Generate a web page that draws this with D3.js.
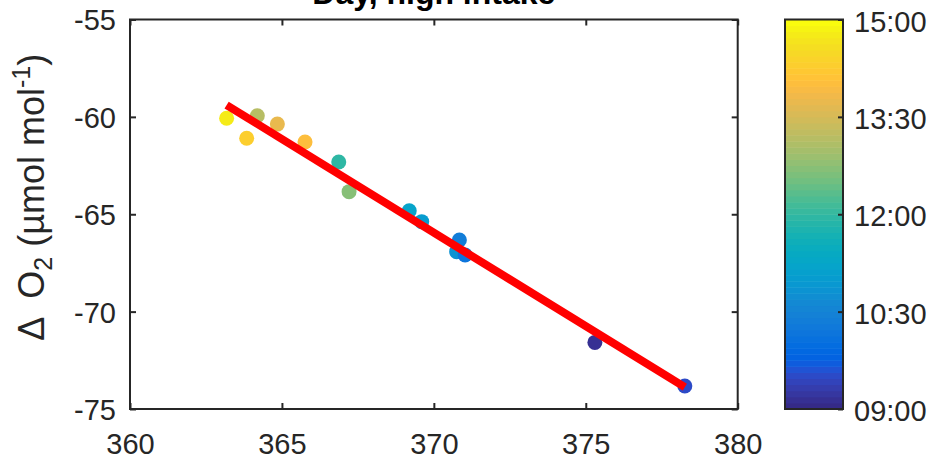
<!DOCTYPE html>
<html>
<head>
<meta charset="utf-8">
<script src="https://cdn.jsdelivr.net/npm/d3@7"></script>
<style>
  html, body { margin: 0; padding: 0; background: #fff; }
  svg { display: block; font-family: "Liberation Sans", Arial, Helvetica, sans-serif; }
</style>
</head>
<body>
<svg id="chart" width="940" height="459"></svg>
<script>
// ---- data ----
const co2 = [363.18, 363.84, 364.19, 364.85, 365.76, 366.87, 367.21, 369.19, 369.60, 370.84, 370.75, 371.03, 375.30, 378.26];
const dO2 = [-60.07, -61.10, -59.94, -60.37, -61.29, -62.32, -63.84, -64.82, -65.38, -66.32, -66.92, -67.09, -71.58, -73.82];
const times = ["14:48", "14:18", "13:12", "13:42", "14:00", "11:57", "12:42", "11:12", "11:00", "10:24", "10:48", "10:12", "09:06", "09:30"];
const xTicks = [360, 365, 370, 375, 380];
const yTicks = [-75, -70, -65, -60, -55];
const cbTicks = ["09:00", "10:30", "12:00", "13:30", "15:00"];
const title = "Day, high intake";

// parula colormap (64 entries)
const parula = [
[0.2081,0.1663,0.5292],[0.2116,0.1898,0.5777],[0.2123,0.2138,0.6270],[0.2081,0.2386,0.6771],
[0.1959,0.2645,0.7279],[0.1707,0.2919,0.7792],[0.1253,0.3242,0.8303],[0.0591,0.3598,0.8683],
[0.0117,0.3875,0.8820],[0.0060,0.4086,0.8828],[0.0165,0.4266,0.8786],[0.0329,0.4430,0.8720],
[0.0498,0.4586,0.8641],[0.0629,0.4737,0.8554],[0.0723,0.4887,0.8467],[0.0779,0.5040,0.8384],
[0.0793,0.5200,0.8312],[0.0749,0.5375,0.8263],[0.0641,0.5570,0.8240],[0.0488,0.5772,0.8228],
[0.0343,0.5966,0.8199],[0.0265,0.6137,0.8135],[0.0239,0.6287,0.8038],[0.0231,0.6418,0.7913],
[0.0228,0.6535,0.7768],[0.0267,0.6642,0.7607],[0.0384,0.6743,0.7436],[0.0590,0.6838,0.7254],
[0.0843,0.6928,0.7062],[0.1133,0.7015,0.6859],[0.1453,0.7098,0.6646],[0.1801,0.7177,0.6424],
[0.2178,0.7250,0.6193],[0.2586,0.7317,0.5954],[0.3022,0.7376,0.5712],[0.3482,0.7424,0.5473],
[0.3953,0.7459,0.5244],[0.4420,0.7481,0.5033],[0.4871,0.7491,0.4840],[0.5300,0.7491,0.4661],
[0.5709,0.7485,0.4494],[0.6099,0.7473,0.4337],[0.6473,0.7456,0.4188],[0.6834,0.7435,0.4044],
[0.7184,0.7411,0.3905],[0.7525,0.7384,0.3768],[0.7858,0.7356,0.3633],[0.8185,0.7327,0.3498],
[0.8507,0.7299,0.3360],[0.8824,0.7274,0.3217],[0.9139,0.7258,0.3063],[0.9450,0.7261,0.2886],
[0.9739,0.7314,0.2666],[0.9938,0.7455,0.2403],[0.9990,0.7653,0.2164],[0.9955,0.7861,0.1967],
[0.9880,0.8066,0.1794],[0.9789,0.8271,0.1633],[0.9697,0.8481,0.1475],[0.9626,0.8705,0.1309],
[0.9589,0.8949,0.1132],[0.9598,0.9218,0.0948],[0.9661,0.9514,0.0755],[0.9763,0.9831,0.0538]
];

// ---- helpers ----
const toHours = s => { const [h, m] = s.split(":").map(Number); return h + m / 60; };
const parulaColors = parula.map(c => d3.rgb(c[0] * 255, c[1] * 255, c[2] * 255).formatHex());
const tMin = toHours(cbTicks[0]), tMax = toHours(cbTicks[cbTicks.length - 1]);
const colorScale = d3.scaleQuantize().domain([tMin, tMax]).range(parulaColors);

const ink = "#262626";
const FS = 29;

const svg = d3.select("#chart");

// layout
const plot = { left: 130, right: 737.7, top: 19.5, bottom: 409 };
const cb = { left: 785, right: 843, top: 19.5, bottom: 409 };

const x = d3.scaleLinear().domain([xTicks[0], xTicks[xTicks.length - 1]]).range([plot.left, plot.right]);
const y = d3.scaleLinear().domain([yTicks[0], yTicks[yTicks.length - 1]]).range([plot.bottom, plot.top]);

// points
const pts = co2.map((v, i) => ({ x: v, y: dO2[i], t: toHours(times[i]) }));
svg.append("g").selectAll("circle").data(pts).join("circle")
  .attr("cx", d => x(d.x)).attr("cy", d => y(d.y)).attr("r", 7.5)
  .attr("fill", d => colorScale(d.t));

// regression line
const mx = d3.mean(co2), my = d3.mean(dO2);
const sxy = d3.sum(co2, (v, i) => (v - mx) * (dO2[i] - my));
const sxx = d3.sum(co2, v => (v - mx) * (v - mx));
const slope = sxy / sxx, icpt = my - slope * mx;
const ext = d3.extent(co2);
svg.append("path")
  .attr("d", d3.line().x(d => x(d)).y(d => y(icpt + slope * d))(ext))
  .attr("stroke", "#ff0000").attr("stroke-width", 8).attr("fill", "none");

// axes box
svg.append("rect")
  .attr("x", plot.left).attr("y", plot.top)
  .attr("width", plot.right - plot.left).attr("height", plot.bottom - plot.top)
  .attr("fill", "none").attr("stroke", ink).attr("stroke-width", 2);

// axes with inward ticks
const gx = svg.append("g").attr("transform", `translate(0,${plot.bottom})`)
  .call(d3.axisBottom(x).tickValues(xTicks).tickSize(-6).tickPadding(24).tickFormat(d3.format("d")));
const gxTop = svg.append("g").attr("transform", `translate(0,${plot.top})`)
  .call(d3.axisTop(x).tickValues(xTicks).tickSize(-6).tickFormat(""));
const gy = svg.append("g").attr("transform", `translate(${plot.left},0)`)
  .call(d3.axisLeft(y).tickValues(yTicks).tickSize(-6).tickPadding(14).tickFormat(d => d3.format("d")(d).replace("−", "-")));
const gyR = svg.append("g").attr("transform", `translate(${plot.right},0)`)
  .call(d3.axisRight(y).tickValues(yTicks).tickSize(-6).tickFormat(""));

[gx, gxTop, gy, gyR].forEach(g => {
  g.select(".domain").remove();
  g.selectAll(".tick line").attr("stroke", ink).attr("stroke-width", 2);
  g.selectAll("text").attr("fill", ink).attr("font-size", FS).attr("font-family", null);
  g.attr("font-family", null);
});
gy.selectAll("text").attr("dy", "0.36em");

// title
svg.append("text")
  .attr("x", (plot.left + plot.right) / 2).attr("y", 4)
  .attr("text-anchor", "middle").attr("font-size", 32).attr("font-weight", "bold")
  .attr("fill", "#000").text(title);

// y label
const yl = svg.append("text")
  .attr("transform", `translate(44,${(plot.top + plot.bottom) / 2 - 17}) rotate(-90)`)
  .attr("text-anchor", "middle").attr("font-size", 36).attr("fill", ink)
  .attr("xml:space", "preserve");
yl.append("tspan").text("Δ  O");
yl.append("tspan").attr("font-size", 25).attr("dy", 8).text("2");
yl.append("tspan").attr("dy", -8).text(" (µmol mol");
yl.append("tspan").attr("font-size", 25).attr("dy", -14).text("-1");
yl.append("tspan").attr("dy", 14).text(")");

// colorbar
const cy = d3.scaleLinear().domain([0, parulaColors.length]).range([cb.bottom, cb.top]);
svg.append("g").selectAll("rect").data(parulaColors).join("rect")
  .attr("x", cb.left).attr("width", cb.right - cb.left)
  .attr("y", (d, i) => cy(i + 1)).attr("height", (d, i) => cy(i) - cy(i + 1) + 0.5)
  .attr("fill", d => d);
svg.append("rect")
  .attr("x", cb.left).attr("y", cb.top)
  .attr("width", cb.right - cb.left).attr("height", cb.bottom - cb.top)
  .attr("fill", "none").attr("stroke", ink).attr("stroke-width", 2);

const ct = d3.scaleLinear().domain([tMin, tMax]).range([cb.bottom, cb.top]);
const gc = svg.append("g").attr("transform", `translate(${cb.right},0)`)
  .call(d3.axisRight(ct).tickValues(cbTicks.map(toHours)).tickSize(-5).tickPadding(11)
    .tickFormat((d, i) => cbTicks[i]));
gc.select(".domain").remove();
gc.attr("font-family", null);
gc.selectAll(".tick line").attr("stroke", ink).attr("stroke-width", 2);
gc.selectAll("text").attr("fill", ink).attr("font-size", FS).attr("dy", "0.4em");
</script>
</body>
</html>
